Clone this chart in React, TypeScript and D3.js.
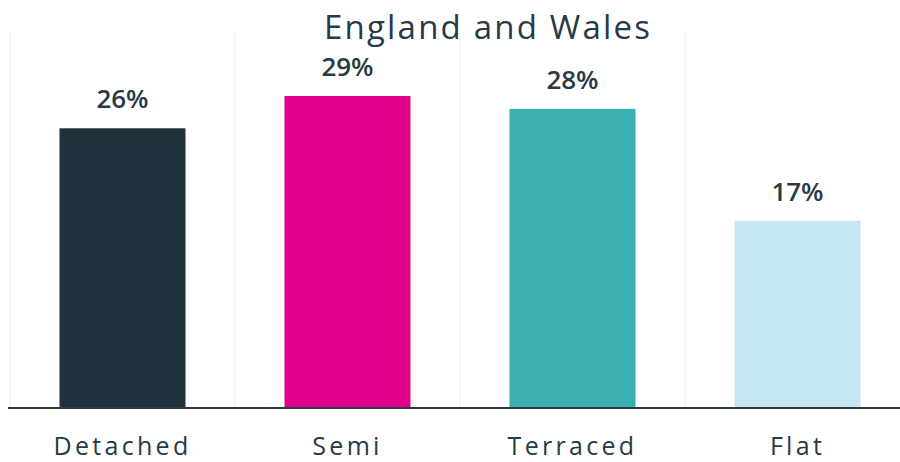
import React from "react";
import * as d3 from "d3";

const categories = ["Detached", "Semi", "Terraced", "Flat"];
const values = [26.0, 29.0, 27.8, 17.4];
const colors = ["#20313c", "#e2008a", "#3aafaf", "#c6e6f2"];
const title = "England and Wales";

const W = 900;
const H = 462;

export default function App() {
  const x = d3.scaleBand<string>().domain(categories).range([10, 910]).paddingInner(0.44).paddingOuter(0.22);
  const band = d3.scaleBand<string>().domain(categories).range([10, 910]);
  const y = d3.scaleLinear().domain([0, 29]).range([408, 96]);
  const textColor = "#283a45";
  return (
    <div style={{ position: "fixed", left: 0, top: 0, width: W, height: H, background: "#fff" }}>
      <svg width={W} height={H} style={{ display: "block" }}>
        {categories.map((c) => (
          <line key={"g" + c} x1={band(c)!} x2={band(c)!} y1={30} y2={408} stroke="#f2f2fa" strokeWidth={1.5} />
        ))}
        {categories.map((c, i) => (
          <rect key={c} x={x(c)!} y={y(values[i])} width={x.bandwidth()} height={408 - y(values[i])} fill={colors[i]} />
        ))}
        {categories.map((c, i) => (
          <text key={"v" + c} x={x(c)! + x.bandwidth() / 2} y={y(values[i]) - 20} textAnchor="middle"
            fontFamily="'Open Sans', sans-serif" fontSize={26} fontWeight={600} fill={textColor}>
            {Math.round(values[i]) + "%"}
          </text>
        ))}
        <line x1={8} x2={900} y1={408} y2={408} stroke="#2b3a44" strokeWidth={2} />
        {categories.map((c) => (
          <text key={"l" + c} x={band(c)! + band.bandwidth() / 2} y={455} textAnchor="middle"
            fontFamily="'Open Sans', sans-serif" fontSize={25} fontWeight={500} letterSpacing={3.3} fill={textColor}>
            {c}
          </text>
        ))}
        <text x={487} y={39} textAnchor="middle" fontFamily="'Open Sans', sans-serif"
          fontSize={33} fontWeight={500} textLength={326} lengthAdjust="spacing" fill={textColor}>
          {title}
        </text>
      </svg>
    </div>
  );
}
